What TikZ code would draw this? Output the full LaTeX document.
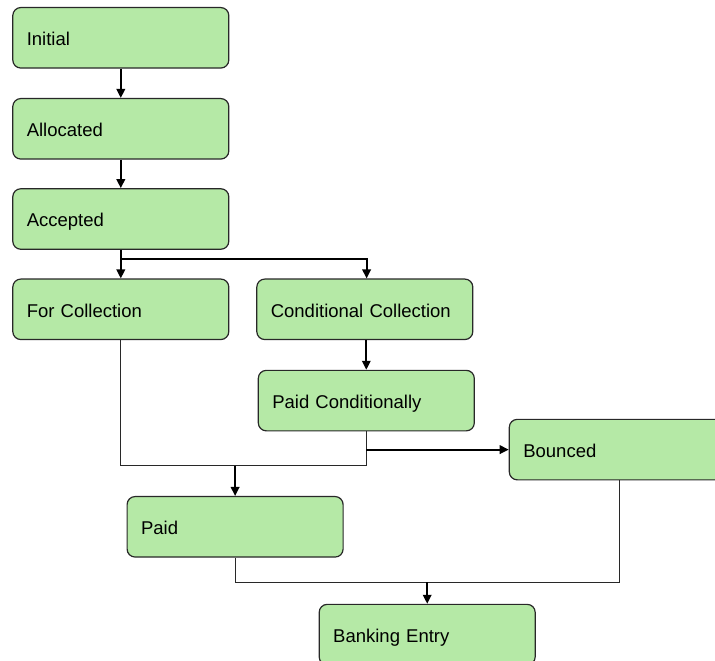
\documentclass[tikz,border=0pt]{standalone}
\usepackage{fontspec}
\setmainfont{Liberation Sans}
\usetikzlibrary{arrows.meta}
\definecolor{statefill}{RGB}{181,233,166}
\definecolor{stateline}{RGB}{40,40,40}
\tikzset{
  state/.style={draw=stateline, line width=1.2pt, fill=statefill, rounded corners=8pt,
    minimum height=60.5pt, text width=188pt, inner xsep=14pt, align=left,
    text height=15.4pt, text depth=0pt,
    font=\fontsize{18.5}{22}\selectfont},
  flow/.style={line width=2pt, -{Triangle[length=9pt,width=8.5pt]}},
  merge/.style={line width=1.2pt, draw=stateline},
}
\begin{document}
\begin{tikzpicture}[x=1pt,y=-1pt]
  \useasboundingbox (0,0) rectangle (715,661);
  \clip (0,0) rectangle (715,661);

  % states
  \node[state] (init)  at (120.8,37.8)  {Initial};
  \node[state] (alloc) at (120.8,128.8) {Allocated};
  \node[state] (acc)   at (120.8,219.0) {Accepted};
  \node[state] (forc)  at (120.8,309.3) {For Collection};
  \node[state] (condc) at (364.8,309.3) {Conditional Collection};
  \node[state] (paidc) at (366.3,400.6) {Paid Conditionally};
  \node[state, text width=192pt] (bounce) at (619.3,449.6) {Bounced};
  \node[state] (paid)  at (235.1,526.8) {Paid};
  \node[state] (bank)  at (427.2,634.6) {Banking Entry};

  % junction points where paths merge
  \coordinate (fork) at (120.8,259.0);
  \coordinate (j1) at (235.1,465.7);
  \coordinate (j2) at (427.2,582.3);

  % transitions
  \draw[flow] (init) -- (alloc);
  \draw[flow] (alloc) -- (acc);
  \draw[flow] (acc) -- (forc);
  \draw[line width=2pt] (acc.south) -- (fork);
  \draw[flow] (fork) -| ([xshift=1.8pt]condc.north);
  \draw[flow] (paidc.north |- condc.south) -- (paidc.north);

  \draw[merge] (forc.south) |- (j1) -| (paidc.south);
  \draw[flow] (j1) -- (paid.north);
  \draw[flow] (paidc.south |- bounce.west) -- (bounce.west);

  \draw[merge] (paid.south) |- (j2) -| (bounce.south);
  \draw[flow] (j2) -- (bank.north);
\end{tikzpicture}
\end{document}
